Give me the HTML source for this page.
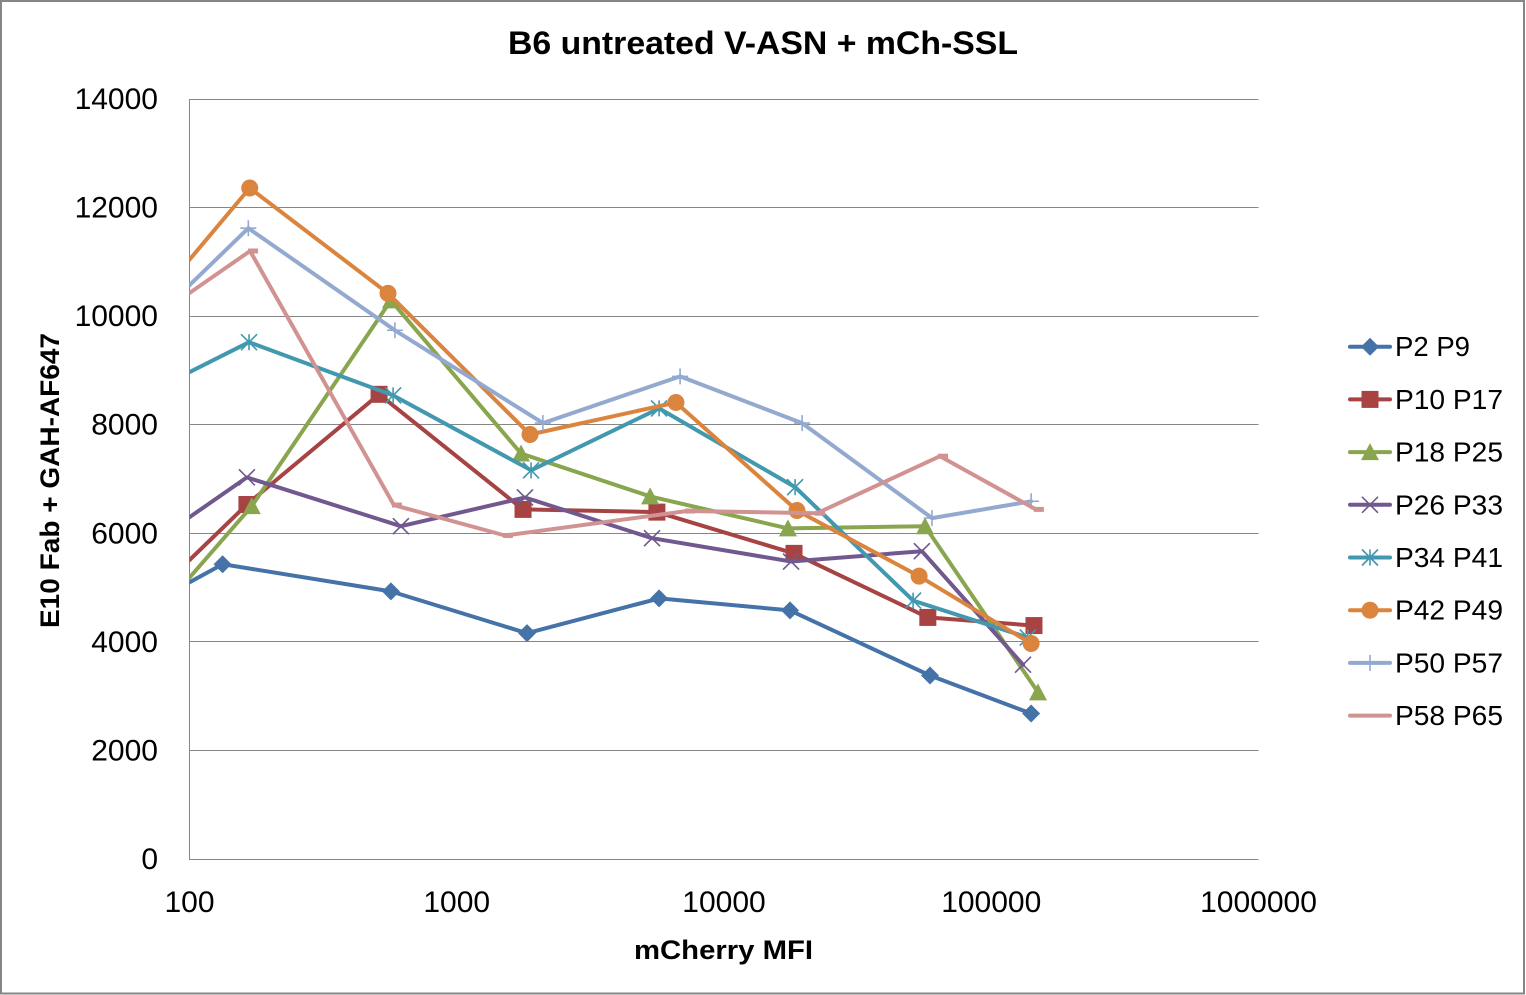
<!DOCTYPE html>
<html lang="en">
<head>
<meta charset="utf-8">
<title>B6 untreated V-ASN + mCh-SSL</title>
<style>
html,body{margin:0;padding:0;background:#fff;}
svg{display:block;}
text{font-family:"Liberation Sans",sans-serif;fill:#000;}
</style>
</head>
<body>
<svg id="chart" xmlns="http://www.w3.org/2000/svg" width="1526" height="995" viewBox="0 0 1526 995">
  <rect x="1" y="1" width="1523" height="992.5" fill="#fff" stroke="#868686" stroke-width="2"/>
  <defs><clipPath id="plot-clip"><rect x="189.5" y="90" width="1069" height="770"/></clipPath></defs>
  <g id="grid"></g>
  <line x1="189.5" y1="99" x2="189.5" y2="859.5" stroke="#868686" stroke-width="1"/>
  <line x1="189" y1="859.5" x2="1258.5" y2="859.5" stroke="#868686" stroke-width="1"/>
  <g id="y-ticks"></g>
  <g id="x-ticks"></g>
  <g id="series" clip-path="url(#plot-clip)"></g>
  <g id="legend"></g>
  <text x="763" y="54" text-anchor="middle" font-size="32" font-weight="bold" textLength="510" lengthAdjust="spacingAndGlyphs">B6 untreated V-ASN + mCh-SSL</text>
  <text x="723.5" y="959" text-anchor="middle" font-size="27" font-weight="bold" textLength="179" lengthAdjust="spacingAndGlyphs">mCherry MFI</text>
  <text transform="translate(59,480.5) rotate(-90)" x="0" y="0" text-anchor="middle" font-size="27" font-weight="bold" textLength="295" lengthAdjust="spacingAndGlyphs">E10 Fab + GAH-AF647</text>
</svg>
<script>
var yTickValues = [0, 2000, 4000, 6000, 8000, 10000, 12000, 14000];
var xTickValues = [100, 1000, 10000, 100000, 1000000];

var seriesNames = ["P2 P9", "P10 P17", "P18 P25", "P26 P33", "P34 P41", "P42 P49", "P50 P57", "P58 P65"];

var xP2P9 = [60, 133, 567, 1832, 5715, 17660, 59000, 141000];
var yP2P9 = [4500, 5430, 4930, 4160, 4800, 4580, 3380, 2680];

var xP10P17 = [60, 164, 512, 1770, 5610, 18280, 57900, 144500];
var yP10P17 = [4450, 6530, 8560, 6440, 6390, 5630, 4450, 4300];

var xP18P25 = [60, 171, 567, 1740, 5290, 17350, 56500, 149600];
var yP18P25 = [3930, 6500, 10290, 7470, 6680, 6090, 6130, 3070];

var xP26P33 = [60, 164, 618, 1800, 5380, 17820, 55000, 131500];
var yP26P33 = [5540, 7030, 6130, 6660, 5910, 5480, 5670, 3580];

var xP34P41 = [60, 167, 578, 1897, 5715, 18450, 51000, 137000];
var yP34P41 = [8420, 9520, 8540, 7160, 8300, 6850, 4760, 4080];

var xP42P49 = [60, 168, 553, 1880, 6610, 18750, 53700, 141000];
var yP42P49 = [9740, 12360, 10420, 7820, 8410, 6420, 5210, 3970];

var xP50P57 = [60, 166, 587, 2100, 6850, 19600, 60000, 141000];
var yP50P57 = [9510, 11620, 9740, 8030, 8890, 8030, 6280, 6590];

var xP58P65 = [60, 168.5, 582, 1515, 7270, 22300, 64300, 146900];
var yP58P65 = [9670, 11200, 6520, 5960, 6410, 6370, 7420, 6440];

var xSeries = [xP2P9, xP10P17, xP18P25, xP26P33, xP34P41, xP42P49, xP50P57, xP58P65];
var ySeries = [yP2P9, yP10P17, yP18P25, yP26P33, yP34P41, yP42P49, yP50P57, yP58P65];

var seriesColors = ["#4572A7", "#A74342", "#89A54E", "#71588F", "#4198AF", "#DB843D", "#93A9CF", "#D19392"];
var seriesMarkers = ["diamond", "square", "triangle", "cross", "star", "circle", "plus", "dash"];

var NS = "http://www.w3.org/2000/svg";
function xScale(v) { return 189.5 + (Math.log10(v) - 2) * 267.25; }
function yScale(v) { return 859 - v / 14000 * 760; }
function make(tag, attrs, parent) {
  var el = document.createElementNS(NS, tag);
  for (var k in attrs) { el.setAttribute(k, attrs[k]); }
  parent.appendChild(el);
  return el;
}
function drawMarker(kind, x, y, color, parent) {
  var el;
  if (kind === "diamond") {
    el = make("polygon", {points: (x) + "," + (y - 9) + " " + (x + 9) + "," + y + " " + x + "," + (y + 9) + " " + (x - 9) + "," + y, fill: color}, parent);
  } else if (kind === "square") {
    el = make("rect", {x: x - 8.5, y: y - 8.5, width: 17, height: 17, fill: color}, parent);
  } else if (kind === "triangle") {
    el = make("polygon", {points: x + "," + (y - 9) + " " + (x + 9) + "," + (y + 8) + " " + (x - 9) + "," + (y + 8), fill: color}, parent);
  } else if (kind === "circle") {
    el = make("circle", {cx: x, cy: y, r: 8.5, fill: color}, parent);
  } else if (kind === "dash") {
    el = make("rect", {x: x - 2, y: y - 2.5, width: 10, height: 5, fill: color}, parent);
  } else {
    var d = "";
    if (kind === "cross" || kind === "star") {
      d += "M" + (x - 8) + " " + (y - 8) + "L" + (x + 8) + " " + (y + 8) + "M" + (x + 8) + " " + (y - 8) + "L" + (x - 8) + " " + (y + 8);
    }
    if (kind === "star") {
      d += "M" + x + " " + (y - 8) + "L" + x + " " + (y + 8);
    }
    if (kind === "plus") {
      d += "M" + (x - 8) + " " + y + "L" + (x + 8) + " " + y + "M" + x + " " + (y - 8) + "L" + x + " " + (y + 8);
    }
    el = make("path", {d: d, fill: "none", stroke: color, "stroke-width": 1.6}, parent);
  }
  return el;
}

var gridG = document.getElementById("grid");
var yTickG = document.getElementById("y-ticks");
var xTickG = document.getElementById("x-ticks");
var seriesG = document.getElementById("series");
var legendG = document.getElementById("legend");

yTickValues.forEach(function (v) {
  var py = Math.floor(yScale(v)) + 0.5;
  if (v > 0) {
    var gl = make("line", {x1: 189.5, y1: py, x2: 1258.5, y2: py, stroke: "#868686", "stroke-width": 1}, gridG);
    
    
  }
  var t = make("text", {x: 158, y: yScale(v) + 10, "text-anchor": "end", "font-size": 30}, yTickG);
  t.textContent = String(v);
  
  
});

xTickValues.forEach(function (v) {
  var t = make("text", {x: xScale(v), y: 912, "text-anchor": "middle", "font-size": 30}, xTickG);
  t.textContent = String(v);
  
  
});

seriesNames.forEach(function (name, i) {
  var g = make("g", {}, seriesG);
  
  
  var pts = xSeries[i].map(function (xv, j) {
    return xScale(xv).toFixed(1) + "," + yScale(ySeries[i][j]).toFixed(1);
  }).join(" ");
  var line = make("polyline", {points: pts, fill: "none", stroke: seriesColors[i], "stroke-width": 4, "stroke-linejoin": "round", "stroke-linecap": "round"}, g);
  
  
  xSeries[i].forEach(function (xv, j) {
    var m = drawMarker(seriesMarkers[i], xScale(xv), yScale(ySeries[i][j]), seriesColors[i], g);
    
    
  });

  var ly = 346.7 + i * 52.7;
  var entry = make("g", {}, legendG);
  
  
  var key = make("line", {x1: 1350, y1: ly, x2: 1390, y2: ly, stroke: seriesColors[i], "stroke-width": 4, "stroke-linecap": "round"}, entry);
  
  
  if (seriesMarkers[i] !== "dash") {
    var lm = drawMarker(seriesMarkers[i], 1370, ly, seriesColors[i], entry);
    
    
  }
  var lt = make("text", {x: 1395, y: ly + 9.5, "font-size": 28, textLength: name.length === 5 ? 75 : 108, lengthAdjust: "spacingAndGlyphs"}, entry);
  lt.textContent = name;
  
  
});
</script>
</body>
</html>
